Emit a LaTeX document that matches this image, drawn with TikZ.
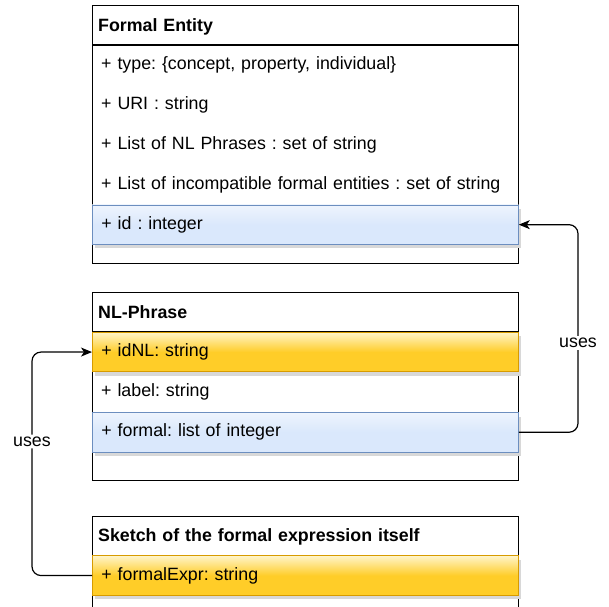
\documentclass[tikz,border=0pt]{standalone}
\usepackage{fontspec}
\setmainfont{Liberation Sans}
\usetikzlibrary{arrows.meta,calc,shadows}
\definecolor{bluefill}{HTML}{DAE8FC}
\definecolor{bluetop}{HTML}{EEF4FD}
\definecolor{blueline}{HTML}{6C8EBF}
\definecolor{yelfill}{HTML}{FFCD28}
\definecolor{yeltop}{HTML}{FFF4C8}
\definecolor{yelline}{HTML}{D79B00}
\definecolor{shadowgray}{HTML}{D8D8D8}
\frenchspacing
\begin{document}
\begin{tikzpicture}[x=1pt,y=-1pt,
  font=\fontsize{17.8}{20}\selectfont,
  classbox/.style={draw=black, line width=1.2pt, fill=white, anchor=north west,
    minimum width=426pt, inner sep=0pt},
  header/.style={anchor=north west, minimum width=426pt, minimum height=39.5pt,
    text width=414pt, inner xsep=5pt, inner ysep=0pt, align=left,
    text height=12.9pt, text depth=0pt,
    font=\fontsize{17.8}{20}\selectfont\bfseries},
  attr/.style={anchor=north west, minimum width=426pt, minimum height=39.5pt,
    text width=408pt, inner xsep=9pt, inner ysep=0pt, align=left},
  sepline/.style={draw=black, line width=1.2pt},
  shadowed/.style={drop shadow={shadow xshift=3pt, shadow yshift=-4pt,
    fill=shadowgray, opacity=1}},
  bluerow/.style={attr, shadowed, draw=blueline, line width=0.8pt,
    top color=bluetop, bottom color=bluefill, middle color=bluefill},
  yelrow/.style={attr, shadowed, draw=yelline, line width=0.8pt,
    top color=yeltop, bottom color=yelfill, middle color=yelfill},
  conn/.style={draw=black, line width=1.2pt, rounded corners=9pt,
    -{Stealth[length=11pt,width=9pt,inset=3pt]}},
  lbl/.style={fill=white, inner sep=2pt},
]
\clip (0,0) rectangle (609,606);
\useasboundingbox (0,0) rectangle (609,606);
\fill[white] (0,0) rectangle (609,606);

% ---------- Formal Entity ----------
\node[classbox, minimum height=258pt] (fe) at (92,5) {};
\node[header] (feh) at (92,5) {Formal Entity};
\draw[sepline] (feh.south west) -- (feh.south east);
\node[attr] (fetype) at (feh.south west) {+ type: \{concept, property, individual\}};
\node[attr] (feuri) at (fetype.south west) {+ URI : string};
\node[attr] (fenl) at (feuri.south west) {+ List of NL Phrases : set of string};
\node[attr] (feinc) at (fenl.south west) {+ List of incompatible formal entities : set of string};
\node[bluerow] (feid) at (feinc.south west) {+ id : integer};

% ---------- NL-Phrase ----------
\node[classbox, minimum height=188pt] (nl) at (92,292) {};
\node[header] (nlh) at (92,292) {NL-Phrase};
\draw[sepline] (nlh.south west) -- (nlh.south east);
\node[yelrow] (nlid) at (nlh.south west) {+ idNL: string};
\node[attr] (nllabel) at (nlid.south west) {+ label: string};
\node[bluerow] (nlformal) at (nllabel.south west) {+ formal: list of integer};

% ---------- Sketch ----------
\node[classbox, minimum height=110pt] (sk) at (92,515.5) {};
\node[header] (skh) at (92,515.5) {Sketch of the formal expression itself};
\draw[sepline] (skh.south west) -- (skh.south east);
\node[yelrow] (skexpr) at (skh.south west) {+ formalExpr: string};

% ---------- connectors ----------
\coordinate (rx) at (578,300);
\coordinate (lx) at (32,300);
\draw[conn] (nlformal.east) -- (nlformal.east -| rx)
  -- node[lbl, pos=0.43] (u1) {uses} (feid.east -| rx) -- (feid.east);
\draw[conn] (skexpr.west) -- (skexpr.west -| lx)
  -- node[lbl, pos=0.6] (u2) {uses} (nlid.west -| lx) -- (nlid.west);
\end{tikzpicture}
\end{document}
